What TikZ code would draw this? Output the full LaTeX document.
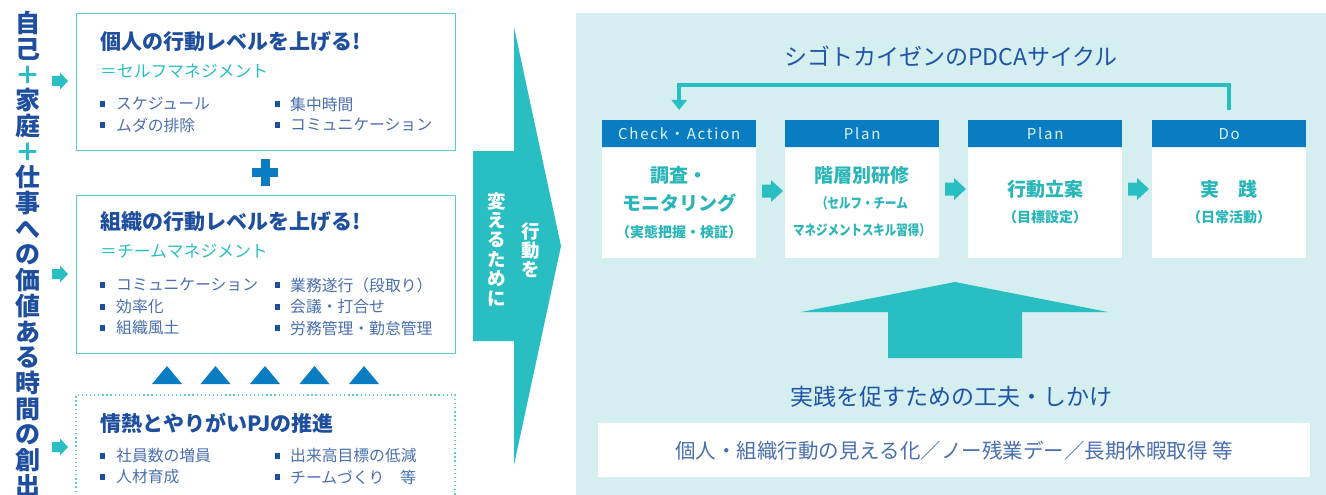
\documentclass[tikz,border=0pt]{standalone}
\usepackage{fontspec}
\setmainfont{Noto Sans CJK JP}
\usetikzlibrary{arrows.meta,calc}
\definecolor{navy}{HTML}{1E4E9E}
\definecolor{titleblue}{HTML}{1F55A6}
\definecolor{teal1}{HTML}{29BFC2}
\definecolor{tealB}{HTML}{5CCDD0}
\definecolor{bluehdr}{HTML}{0A7DC2}
\definecolor{panel}{HTML}{D5EEEF}
\definecolor{bultxt}{HTML}{4A6FAE}
\definecolor{hdrtxt}{HTML}{DDF3F6}
\definecolor{cardtxt}{HTML}{2AB5B8}
\newcommand{\rarrow}[6]{\fill[teal1] (#1,#4-#5) -- (#2,#4-#5) -- (#2,#4-#6) -- (#3,#4) -- (#2,#4+#6) -- (#2,#4+#5) -- (#1,#4+#5) -- cycle;}
\tikzset{
  box/.style={draw=tealB, line width=1.3pt, fill=white, inner sep=0},
  btitle/.style={anchor=west, inner sep=0, text=navy, font=\fontsize{21}{21}\selectfont\bfseries},
  bsub/.style={anchor=west, inner sep=0, text=teal1, font=\fontsize{16.8}{17}\selectfont},
  bul/.style={anchor=west, inner sep=0, text=bultxt, font=\fontsize{15.8}{16}\selectfont},
  bsq/.style={fill=navy, minimum size=5.5pt, inner sep=0},
  vtxt/.style={anchor=north, align=center, inner sep=0, text=navy, font=\fontsize{25}{25.7}\selectfont\bfseries},
  atxt/.style={anchor=north, align=center, inner sep=0, text=white, font=\fontsize{18.5}{19.4}\selectfont\bfseries},
  hdr/.style={anchor=north west, fill=bluehdr, minimum width=154pt, minimum height=27pt, inner sep=0, text=hdrtxt, font=\fontsize{15}{15}\selectfont\addfontfeature{LetterSpace=12}},
  body/.style={anchor=north, fill=white, minimum width=154pt, minimum height=110pt, inner sep=0},
  cmain/.style={inner sep=0, text=cardtxt, font=\fontsize{19}{19}\selectfont\bfseries},
  csmall/.style={inner sep=0, text=cardtxt, font=\fontsize{14}{14}\selectfont\bfseries},
  ptitle/.style={inner sep=0, text=titleblue, font=\fontsize{23}{23}\selectfont},
}
\begin{document}
\begin{tikzpicture}[x=1pt,y=-1pt]
\useasboundingbox (0,0) rectangle (1326,495);
\fill[white] (0,0) rectangle (1326,495);

% left vertical title
\node[vtxt] (vt) at (28,11) {自\\己\\{\color{teal1}＋}\\家\\庭\\{\color{teal1}＋}\\仕\\事\\へ\\の\\価\\値\\あ\\る\\時\\間\\の\\創\\出};

% small arrows
\rarrow{52}{60}{68}{81}{5}{8.5}
\rarrow{52}{60}{68}{274}{5}{8.5}
\rarrow{52}{60}{68}{447}{5}{8.5}

% box 1
\node[box, anchor=north west, minimum width=379pt, minimum height=137pt] (box1) at (76,13) {};
\node[btitle] (t1) at (100,42) {個人の行動レベルを上げる!};
\node[bsub] (s1) at (100,71) {＝セルフマネジメント};
\node[bsq] (q11) at (102.5,104) {}; \node[bul] (l11) at (116,104) {スケジュール};
\node[bsq] (q12) at (102.5,125) {}; \node[bul] (l12) at (116,125) {ムダの排除};
\node[bsq] (q13) at (277.5,104) {}; \node[bul] (l13) at (290,104) {集中時間};
\node[bsq] (q14) at (277.5,125) {}; \node[bul] (l14) at (290,125) {コミュニケーション};

% plus
\fill[bluehdr] (252,168) rectangle (278,177);
\fill[bluehdr] (260.5,159) rectangle (269.5,186);

% box 2
\node[box, anchor=north west, minimum width=379pt, minimum height=158pt] (box2) at (76,195) {};
\node[btitle] (t2) at (100,222) {組織の行動レベルを上げる!};
\node[bsub] (s2) at (100,251) {＝チームマネジメント};
\node[bsq] (q21) at (102.5,285) {}; \node[bul] (l21) at (116,285) {コミュニケーション};
\node[bsq] (q22) at (102.5,307) {}; \node[bul] (l22) at (116,307) {効率化};
\node[bsq] (q23) at (102.5,328) {}; \node[bul] (l23) at (116,328) {組織風土};
\node[bsq] (q24) at (277.5,285) {}; \node[bul] (l24) at (290,285) {業務遂行（段取り）};
\node[bsq] (q25) at (277.5,307) {}; \node[bul] (l25) at (290,307) {会議・打合せ};
\node[bsq] (q26) at (277.5,328) {}; \node[bul] (l26) at (290,328) {労務管理・勤怠管理};

% triangles
\foreach \cx in {167,215.5,265,314.5,364}{
  \fill[bluehdr] (\cx-15,384) -- (\cx+15,384) -- (\cx,366) -- cycle;
}

% box 3 (dotted, open at bottom)
\draw[draw=tealB, line width=1.3pt, dash pattern=on 1.3pt off 2.8pt] (76,500) -- (76,395) -- (455,395) -- (455,500);
\node[btitle] (t3) at (100,423) {情熱とやりがいPJの推進};
\node[bsq] (q31) at (102.5,456) {}; \node[bul] (l31) at (116,456) {社員数の増員};
\node[bsq] (q32) at (102.5,477) {}; \node[bul] (l32) at (116,477) {人材育成};
\node[bsq] (q33) at (277.5,456) {}; \node[bul] (l33) at (290,456) {出来高目標の低減};
\node[bsq] (q34) at (277.5,477) {}; \node[bul] (l34) at (290,477) {チームづくり　等};

% big arrow
\fill[teal1] (514,27) -- (561,246) -- (514,465) -- (514,341) -- (473,341) -- (473,151) -- (514,151) -- cycle;
\node[atxt] (a1) at (531,222) {行\\動\\を};
\node[atxt] (a2) at (497,192) {変\\え\\る\\た\\め\\に};

% right panel
\fill[panel] (576,13) rectangle (1326,495);
\node[ptitle] (pt) at (951,56) {シゴトカイゼンのPDCAサイクル};

% cards
\node[hdr] (h1) at (602,120) {Check・Action};
\node[hdr] (h2) at (785,120) {Plan};
\node[hdr] (h3) at (968,120) {Plan};
\node[hdr] (h4) at (1152,120) {Do};
\node[body] (b1) at (h1.south) {};
\node[body] (b2) at (h2.south) {};
\node[body] (b3) at (h3.south) {};
\node[body] (b4) at (h4.south) {};

\node[cmain] (c11) at (679,175) {調査・};
\node[cmain] (c12) at (679,203) {モニタリング};
\node[csmall] (c13) at (679,232) {（実態把握・検証）};
\node[cmain] (c21) at (862,175) {階層別研修};
\node[csmall] (c22) at (862,203) {\scalebox{0.82}[1]{（セルフ・チーム}};
\node[csmall] (c23) at (862,230) {\scalebox{0.82}[1]{マネジメントスキル習得）}};
\node[cmain] (c31) at (1045,189) {行動立案};
\node[csmall] (c32) at (1045,217) {（目標設定）};
\node[cmain] (c41) at (1229,189) {実　践};
\node[csmall] (c42) at (1229,217) {（日常活動）};

\rarrow{762}{771}{783}{191}{6.5}{11}
\rarrow{945}{954}{966}{189}{6.5}{11}
\rarrow{1128}{1137}{1149}{189}{6.5}{11}

% feedback arrow
\draw[teal1, line width=4pt, -{Triangle[width=15pt,length=10pt]}] ($(h4.north)+(0,-10)$) -- ++(0,-25) -| ($(h1.north)+(0,-10)$);

% up arrow
\fill[teal1] (955,282) -- (1108,312) -- (1022,312) -- (1022,358) -- (888,358) -- (888,312) -- (801,312) -- cycle;

\node[ptitle] (st) at (951,397) {実践を促すための工夫・しかけ};
\node[fill=white, minimum width=712pt, minimum height=54pt, inner sep=0, anchor=north west] (wb) at (598,423) {};
\node[inner sep=0, text=bultxt, font=\fontsize{20.5}{21}\selectfont] (wt) at (wb.center) {個人・組織行動の見える化／ノー残業デー／長期休暇取得 等};
\end{tikzpicture}
\end{document}
